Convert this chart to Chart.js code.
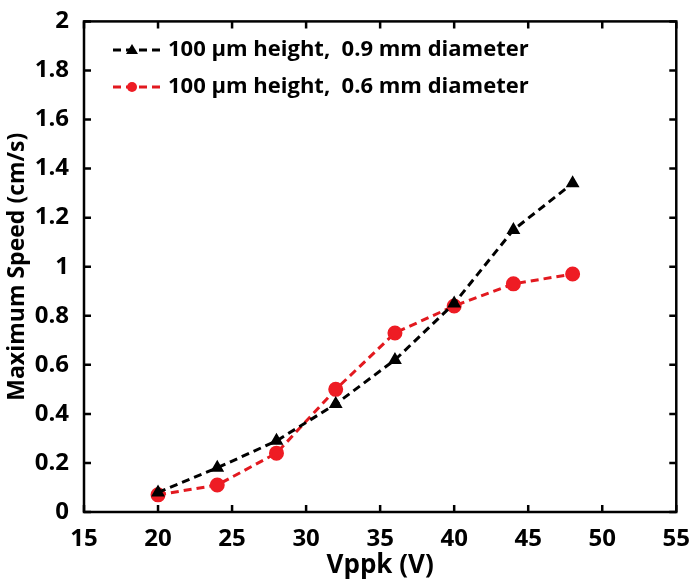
<!DOCTYPE html>
<html>
<head>
<meta charset="utf-8">
<script src="https://cdn.jsdelivr.net/npm/chart.js@4/dist/chart.umd.min.js"></script>
<style>
  html, body { margin: 0; padding: 0; background: #fff; }
  #wrap { width: 695px; height: 585px; }
</style>
</head>
<body>
<div id="wrap"><canvas id="speedChart"></canvas></div>
<script>
const voltages = [20, 24, 28, 32, 36, 40, 44, 48]
const speed09 = [0.08, 0.18, 0.29, 0.44, 0.62, 0.85, 1.15, 1.34]
const speed06 = [0.07, 0.11, 0.24, 0.50, 0.73, 0.84, 0.93, 0.97]
const labels = ['100 µm height,  0.9 mm diameter', '100 µm height,  0.6 mm diameter']

const FONT = "'Open Sans', 'DejaVu Sans', sans-serif"

const toPoints = (xs, ys) => xs.map((x, i) => ({ x: x, y: ys[i] }))

// ticks pointing inward on all four sides of the box
const boxTicks = {
  id: 'boxTicks',
  afterDraw(chart) {
    const c = chart.ctx, a = chart.chartArea
    const xs = chart.scales.x, ys = chart.scales.y
    const len = 7
    c.save()
    c.strokeStyle = '#000'
    c.lineWidth = 2.5
    c.beginPath()
    xs.ticks.forEach(t => {
      const px = xs.getPixelForValue(t.value)
      c.moveTo(px, a.bottom); c.lineTo(px, a.bottom - len)
      c.moveTo(px, a.top); c.lineTo(px, a.top + len)
    })
    ys.ticks.forEach(t => {
      const py = ys.getPixelForValue(t.value)
      c.moveTo(a.left, py); c.lineTo(a.left + len, py)
      c.moveTo(a.right, py); c.lineTo(a.right - len, py)
    })
    c.stroke()
    c.strokeRect(a.left, a.top, a.right - a.left, a.bottom - a.top)
    c.restore()
  }
}

// legend drawn inside the plot, top left
const innerLegend = {
  id: 'innerLegend',
  afterDraw(chart) {
    const c = chart.ctx
    c.save()
    chart.data.datasets.forEach((ds, i) => {
      const y = 50 + i * 37
      const x0 = 113, x1 = 162
      c.strokeStyle = ds.borderColor
      c.lineWidth = 3
      c.setLineDash([8, 5])
      c.beginPath(); c.moveTo(x0, y); c.lineTo(x1, y); c.stroke()
      c.setLineDash([])
      c.fillStyle = ds.pointBackgroundColor
      const mx = 132
      if (ds.pointStyle === 'triangle') {
        c.beginPath()
        c.moveTo(mx, y - 6); c.lineTo(mx + 6, y + 4); c.lineTo(mx - 6, y + 4)
        c.closePath(); c.fill()
      } else {
        c.beginPath(); c.arc(mx, y, 5, 0, Math.PI * 2); c.fill()
      }
      c.fillStyle = '#000'
      c.font = 'bold 22px ' + FONT
      c.textBaseline = 'middle'
      c.fillText(ds.label, 168, y)
    })
    c.restore()
  }
}

const tickFont = { family: FONT, size: 24, weight: 'bold' }

new Chart(document.getElementById('speedChart'), {
  type: 'line',
  data: {
    datasets: [{
      label: labels[0],
      data: toPoints(voltages, speed09),
      borderColor: '#000',
      borderWidth: 3,
      borderDash: [8, 5],
      pointStyle: 'triangle',
      pointRadius: 5,
      pointBackgroundColor: '#000',
      pointBorderColor: '#000',
      fill: false
    }, {
      label: labels[1],
      data: toPoints(voltages, speed06),
      borderColor: '#e2191f',
      borderWidth: 3,
      borderDash: [8, 5],
      pointStyle: 'circle',
      pointRadius: 6,
      pointBackgroundColor: '#ee1c24',
      pointBorderColor: '#ee1c24',
      fill: false
    }]
  },
  options: {
    responsive: true,
    maintainAspectRatio: false,
    animation: false,
    layout: { padding: { top: 18, right: 8, left: 0, bottom: 0 } },
    plugins: { legend: { display: false }, tooltip: { enabled: false } },
    scales: {
      x: {
        type: 'linear',
        min: 15, max: 55,
        ticks: { stepSize: 5, color: '#000', font: tickFont, padding: 5, maxRotation: 0 },
        grid: { display: false },
        border: { display: false },
        title: { display: true, text: 'Vppk (V)', color: '#000', font: { family: FONT, size: 26, weight: 'bold' }, padding: { top: -4 } },
        afterFit: s => { s.height = 73 }
      },
      y: {
        min: 0, max: 2,
        ticks: {
          stepSize: 0.2, color: '#000', font: tickFont, padding: 7,
          callback: v => String(Number(v.toFixed(1)))
        },
        grid: { display: false },
        border: { display: false },
        title: { display: true, text: 'Maximum Speed (cm/s)', color: '#000', font: { family: FONT, size: 23, weight: 'bold' }, padding: { bottom: 0 } },
        afterFit: s => { s.width = 84 }
      }
    }
  },
  plugins: [boxTicks, innerLegend]
})
</script>
</body>
</html>
